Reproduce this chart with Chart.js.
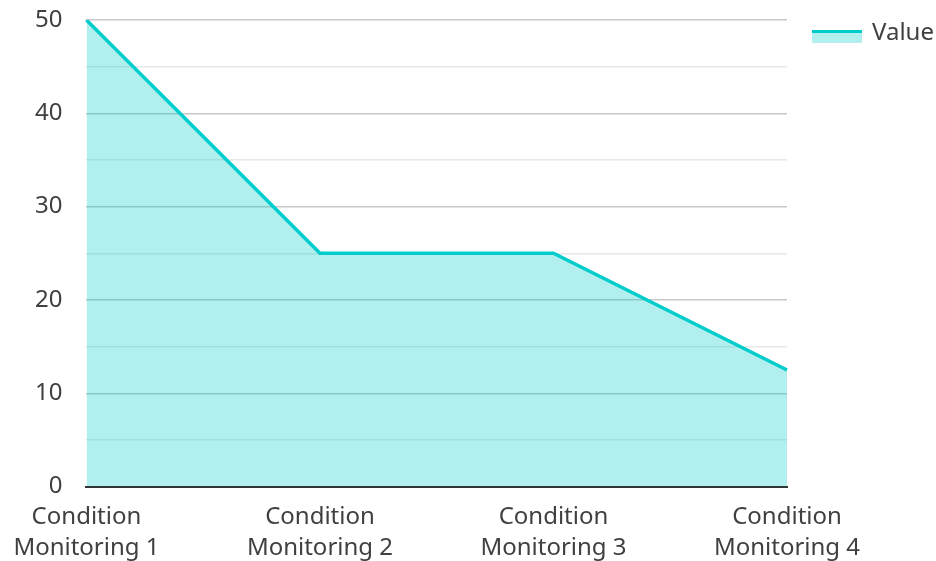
<!DOCTYPE html>
<html>
<head>
<meta charset="utf-8">
<script src="https://cdn.jsdelivr.net/npm/chart.js@4/dist/chart.umd.min.js"></script>
<style>
  html, body { margin: 0; padding: 0; background: #ffffff; }
  #wrap { width: 936px; height: 561px; position: relative; }
</style>
</head>
<body>
<div id="wrap"><canvas id="chart"></canvas></div>
<script>
// Categories (two-line axis labels) and the measured values
const categories = [
  ['Condition', 'Monitoring 1'],
  ['Condition', 'Monitoring 2'],
  ['Condition', 'Monitoring 3'],
  ['Condition', 'Monitoring 4']
];
const seriesName = 'Value';
const values = [50, 25, 25, 12.5];
const yMin = 0;
const yMax = 50;
const yStep = 5;

const LINE = '#00cccc';
const FILL = 'rgba(0, 204, 204, 0.3)';
const TEXT = '#404040';
const FONT = '"Noto Sans", "Open Sans", sans-serif';
const FONT_SIZE = 24;

// Legend drawn beside the plot: a line swatch over a filled band, then the series name
const sideLegend = {
  id: 'sideLegend',
  afterDraw(chart) {
    const ctx = chart.ctx;
    const x = chart.chartArea.right + 25;
    const y = 30;
    ctx.save();
    ctx.fillStyle = FILL;
    ctx.fillRect(x, y + 1, 50, 12);
    ctx.strokeStyle = LINE;
    ctx.lineWidth = 3;
    ctx.beginPath();
    ctx.moveTo(x, y + 1.5);
    ctx.lineTo(x + 50, y + 1.5);
    ctx.stroke();
    ctx.fillStyle = TEXT;
    ctx.font = FONT_SIZE + 'px ' + FONT;
    ctx.textBaseline = 'middle';
    ctx.textAlign = 'left';
    ctx.fillText(seriesName, x + 60, y + 3);
    ctx.restore();
  }
};

new Chart(document.getElementById('chart'), {
  type: 'line',
  data: {
    labels: categories,
    datasets: [{
      label: seriesName,
      data: values,
      borderColor: LINE,
      backgroundColor: FILL,
      borderWidth: 3.5,
      fill: 'origin',
      tension: 0,
      pointRadius: 0,
      pointHoverRadius: 0
    }]
  },
  options: {
    responsive: true,
    maintainAspectRatio: false,
    animation: false,
    layout: { padding: { top: 20, right: 149, left: 33, bottom: 0 } },
    plugins: {
      legend: { display: false },
      tooltip: { enabled: false }
    },
    scales: {
      x: {
        offset: false,
        grid: {
          display: true,
          drawOnChartArea: false,
          drawTicks: true,
          tickLength: 15,
          color: 'transparent',
          tickColor: 'transparent'
        },
        border: { display: true, color: '#333333', width: 2 },
        ticks: {
          color: TEXT,
          font: { family: FONT, size: FONT_SIZE, lineHeight: 1.3 },
          padding: 0,
          maxRotation: 0,
          autoSkip: false
        },
        // the last line's descent space may run to the canvas edge
        afterFit(scale) { scale.height -= 3; }
      },
      y: {
        min: yMin,
        max: yMax,
        grid: {
          drawTicks: true,
          tickLength: 22,
          tickColor: 'transparent',
          color: (c) => (c.tick && c.tick.value % 10 === 0) ? '#c8c8c8' : '#e8e8e8',
          lineWidth: 1.5
        },
        border: { display: false },
        ticks: {
          stepSize: yStep,
          color: TEXT,
          font: { family: FONT, size: FONT_SIZE },
          padding: 2,
          callback: (v) => (v % 10 === 0 ? v : '')
        }
      }
    }
  },
  plugins: [sideLegend]
});
</script>
</body>
</html>
